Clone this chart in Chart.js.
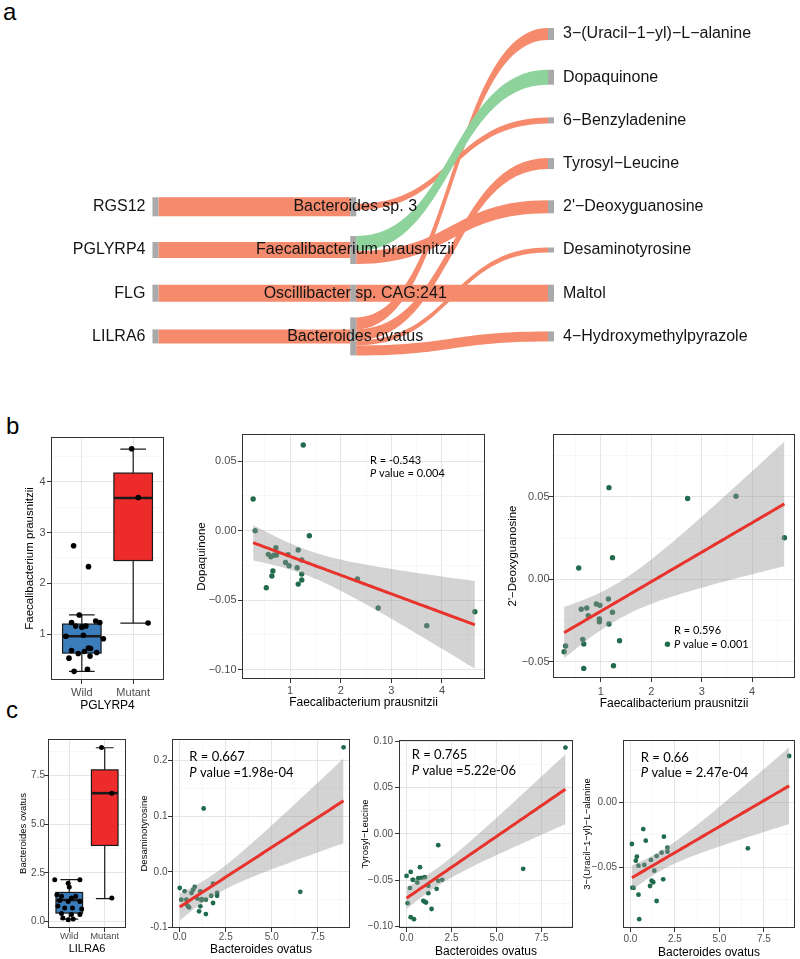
<!DOCTYPE html>
<html>
<head>
<meta charset="utf-8">
<title>Gene - microbe - metabolite figure</title>
<script src="https://cdn.jsdelivr.net/npm/chart.js@4.4.1/dist/chart.umd.min.js"></script>
<style>
  body { margin: 0; width: 800px; height: 959px; background: #fff; position: relative; overflow: hidden; }
  canvas { position: absolute; }
  .tag { position: absolute; font: 24px/24px "Liberation Sans", Arial, sans-serif; color: #000; }
</style>
</head>
<body>
<div class="tag" style="left:3px;top:0px">a</div>
<div class="tag" style="left:6px;top:414px">b</div>
<div class="tag" style="left:6px;top:698px">c</div>
<script>
// ---------- panel a : sankey ----------
var geneNodes = ['RGS12', 'PGLYRP4', 'FLG', 'LILRA6'];
var microbeNodes = ['Bacteroides sp. 3', 'Faecalibacterium prausnitzii', 'Oscillibacter sp. CAG:241', 'Bacteroides ovatus'];
var metaboliteNodes = ['3−(Uracil−1−yl)−L−alanine', 'Dopaquinone', '6−Benzyladenine', 'Tyrosyl−Leucine',
  "2'−Deoxyguanosine", 'Desaminotyrosine', 'Maltol', '4−Hydroxymethylpyrazole'];
var geneRows = [4, 5, 6, 7];
var microbeRows = [4, 5, 6, 7];
var metaboliteRows = [0, 1, 2, 3, 4, 5, 6, 7];

var linkFrom = ['RGS12', 'PGLYRP4', 'FLG', 'LILRA6',
  'Bacteroides sp. 3', 'Oscillibacter sp. CAG:241', 'Faecalibacterium prausnitzii',
  'Bacteroides ovatus', 'Bacteroides ovatus', 'Bacteroides ovatus', 'Bacteroides ovatus',
  'Faecalibacterium prausnitzii'];
var linkTo = ['Bacteroides sp. 3', 'Faecalibacterium prausnitzii', 'Oscillibacter sp. CAG:241', 'Bacteroides ovatus',
  '6−Benzyladenine', 'Maltol', "2'−Deoxyguanosine",
  '3−(Uracil−1−yl)−L−alanine', 'Tyrosyl−Leucine', 'Desaminotyrosine', '4−Hydroxymethylpyrazole',
  'Dopaquinone'];
var linkValue = [19, 16, 17, 14, 6, 17, 13, 12, 11, 5, 10, 15];
var linkSign = ['pos', 'pos', 'pos', 'pos', 'pos', 'pos', 'pos', 'pos', 'pos', 'pos', 'pos', 'neg'];

// ---------- panel b ----------
var fpGroups = ['Wild', 'Mutant'];
var fpLow = [0.27, 1.22], fpQ1 = [0.63, 2.45], fpMed = [0.96, 3.68], fpQ3 = [1.20, 4.17], fpHigh = [1.38, 4.64];
var fpWild = [0.27, 0.31, 0.53, 0.57, 0.62, 0.64, 0.66, 0.68, 0.72, 0.73, 0.91, 0.96, 0.98, 1.14, 1.16, 1.16, 1.23, 1.23, 1.26, 1.38, 2.33, 2.74];
var fpWildJit = [-0.15, 0.11, -0.25, 0.16, -0.07, 0.29, 0.05, -0.2, 0.17, 0.13, 0.42, -0.31, 0.03, 0.0, 0.08, -0.12, -0.2, 0.35, 0.27, -0.05, 0.13, -0.16];
var fpMutant = [1.22, 3.69, 4.65];
var fpMutantJit = [0.29, 0.1, -0.03];

var fpDopaX = [1.26, 0.27, 0.31, 1.38, 0.72, 0.57, 0.62, 0.68, 0.73, 0.96, 1.16, 1.23, 0.91, 0.98, 1.14, 0.66, 0.64, 1.23, 1.23, 1.16, 0.53, 2.33, 2.74, 3.70, 4.65];
var dopaquinone = [0.0617, 0.0228, 0.000, -0.0036, -0.0122, -0.017, -0.0187, -0.0177, -0.0175, -0.0172, -0.0139, -0.021, -0.0228, -0.0252, -0.0266, -0.029, -0.0326, -0.0312, -0.0355, -0.0384, -0.041, -0.0347, -0.0556, -0.0683, -0.0583];
var fpDeoxyX = [1.16, 2.72, 3.68, 4.64, 1.23, 0.56, 1.15, 0.91, 0.98, 0.72, 0.61, 1.23, 0.75, 0.97, 0.97, 1.16, 1.37, 0.64, 0.66, 0.30, 2.32, 0.27, 0.66, 1.25];
var deoxyguanosine = [0.0555, 0.0489, 0.0503, 0.0252, 0.0131, 0.0068, -0.0119, -0.015, -0.0158, -0.0174, -0.0182, -0.02, -0.022, -0.024, -0.0257, -0.0271, -0.0372, -0.0364, -0.0392, -0.0404, -0.0394, -0.0439, -0.054, -0.0524];

// ---------- panel c ----------
var boLow = [0.12, 1.17], boQ1 = [0.43, 3.91], boMed = [1.1, 6.6], boQ3 = [1.49, 7.8], boHigh = [2.15, 8.94];
var boWild = [2.15, 2.15, 1.97, 1.77, 1.37, 1.29, 1.2, 1.29, 1.08, 1.03, 1.03, 0.79, 0.69, 0.69, 0.64, 0.41, 0.35, 0.35, 0.09, 0.12, 0.17];
var boWildJit = [-0.41, 0.3, -0.03, 0, -0.35, -0.22, 0.06, 0.18, -0.27, -0.03, 0.3, -0.32, -0.13, 0.09, 0.35, -0.22, 0.06, 0.3, -0.03, 0.11, -0.18];
var boMutant = [1.2, 6.6, 8.95];
var boMutantJit = [0.2, 0.2, -0.09];

var boDesX = [8.9, 1.3, 6.55, 0.0, 0.09, 0.27, 0.36, 0.45, 0.64, 0.73, 0.82, 0.96, 1.12, 1.18, 1.42, 1.12, 1.71, 1.81, 2.03, 2.03, 1.81, 0.51, 1.05, 1.42, 0.36, 1.2];
var desaminotyrosine = [0.224, 0.114, -0.036, -0.029, -0.050, -0.035, -0.050, -0.062, -0.038, -0.032, -0.027, -0.048, -0.035, -0.051, -0.050, -0.062, -0.043, -0.056, -0.038, -0.043, -0.021, -0.064, -0.071, -0.076, -0.058, -0.049];
var boTyrX = [8.83, 6.48, 1.76, 0.745, 0.0, 0.23, 0.34, 0.65, 0.84, 1.02, 0.6, 0.19, 1.21, 1.76, 1.98, 1.67, 1.21, 0.93, 1.08, 0.06, 1.39, 0.23, 0.41, 0.99, 0.37];
var tyrosylLeucine = [0.0930, -0.0377, -0.0122, -0.0359, -0.0453, -0.041, -0.0496, -0.0478, -0.0474, -0.0467, -0.0525, -0.0585, -0.056, -0.0506, -0.0496, -0.0593, -0.064, -0.0722, -0.074, -0.0747, -0.081, -0.0898, -0.092, -0.073, -0.0496];
var boUraX = [8.92, 6.6, 0.72, 0.86, 0.08, 1.88, 2.08, 2.08, 1.75, 1.47, 1.15, 0.36, 0.30, 0.45, 0.78, 1.34, 0.17, 0.45, 1.1, 1.19, 1.28, 1.84, 1.47, 0.49, 0.11];
var uracilAlanine = [0.0361, -0.0353, -0.0204, -0.0294, -0.032, -0.0263, -0.0348, -0.0379, -0.0387, -0.0413, -0.0443, -0.0418, -0.0449, -0.0488, -0.0482, -0.0526, -0.066, -0.0712, -0.0645, -0.0604, -0.0616, -0.0593, -0.0761, -0.0902, -0.0658];

// tick sets
var fpTicks = [1, 2, 3, 4], fpTickLabels = ['1', '2', '3', '4'], fpMinor = [0.5, 1.5, 2.5, 3.5, 4.5];
var boTicks = [0, 2.5, 5, 7.5], boTickLabels = ['0.0', '2.5', '5.0', '7.5'], boMinor = [1.25, 3.75, 6.25, 8.75];

var LIB = '"Liberation Sans", Arial, sans-serif';
Chart.defaults.font.family = LIB;
Chart.defaults.animation = false;

function addCanvas(f) {
  var c = document.createElement('canvas');
  c.width = f.width; c.height = f.height;
  c.style.left = f.left + 'px'; c.style.top = f.top + 'px';
  c.style.width = f.width + 'px'; c.style.height = f.height + 'px';
  document.body.appendChild(c);
  return c;
}

// where the canvas must sit so the panel lands on rect = [l, t, r, b]
function frame(rect, yTitleX, yTitleSize, xTitleY, xTitleSize) {
  var left = Math.round(yTitleX - yTitleSize * 0.6);
  var top = rect[1] - 10;
  var bottom = Math.round(xTitleY + xTitleSize * 0.6);
  var right = Math.min(rect[2] + 14, 800);
  return { left: left, top: top, width: right - left, height: bottom - top,
    yw: rect[0] - left, xh: bottom - rect[3], padRight: right - rect[2] };
}

function axis(min, max, major, labels, minor, title, titleSize, tickSize, pad, fix) {
  var all = major.concat(minor).sort(function (a, b) { return a - b; });
  var isMajor = function (v) { return major.some(function (m) { return Math.abs(m - v) < 1e-9; }); };
  return {
    type: 'linear', min: min, max: max, bounds: 'data',
    afterBuildTicks: function (s) { s.ticks = all.map(function (v) { return { value: v }; }); },
    afterFit: fix,
    grid: {
      color: function (c) { return c.tick && isMajor(c.tick.value) ? '#E5E5E5' : '#F3F3F3'; },
      lineWidth: function (c) { return c.tick && isMajor(c.tick.value) ? 1 : 0.7; },
      tickColor: function (c) { return c.tick && isMajor(c.tick.value) ? '#333' : 'rgba(0,0,0,0)'; },
      tickLength: 4, tickWidth: 1, drawTicks: true
    },
    border: { display: false },
    ticks: {
      autoSkip: false, maxRotation: 0, minRotation: 0, padding: pad, color: '#4D4D4D',
      font: { size: tickSize },
      callback: function (v) {
        var i = major.findIndex(function (m) { return Math.abs(m - v) < 1e-9; });
        return i < 0 ? '' : labels[i];
      }
    },
    title: { display: true, text: title, color: '#000', font: { size: titleSize }, padding: 0 }
  };
}

var panelBorder = {
  id: 'panelBorder',
  afterDraw: function (chart) {
    var a = chart.chartArea, ctx = chart.ctx;
    ctx.save();
    ctx.strokeStyle = '#333'; ctx.lineWidth = 1;
    ctx.strokeRect(a.left + 0.5, a.top + 0.5, a.right - a.left - 1, a.bottom - a.top - 1);
    ctx.restore();
  }
};

function lmBand(xs, ys, steps) {
  var n = xs.length, mx = 0, my = 0, sxx = 0, sxy = 0, rss = 0, i;
  for (i = 0; i < n; i++) { mx += xs[i] / n; my += ys[i] / n; }
  for (i = 0; i < n; i++) { sxx += (xs[i] - mx) * (xs[i] - mx); sxy += (xs[i] - mx) * (ys[i] - my); }
  var b = sxy / sxx, a = my - b * mx;
  for (i = 0; i < n; i++) rss += Math.pow(ys[i] - a - b * xs[i], 2);
  var s = Math.sqrt(rss / (n - 2)), df = n - 2, z = 1.959964;
  var t = z + (z * z * z + z) / (4 * df) + (5 * Math.pow(z, 5) + 16 * z * z * z + 3 * z) / (96 * df * df);
  var lo = Math.min.apply(null, xs), hi = Math.max.apply(null, xs);
  var fit = [], up = [], dn = [];
  for (var k = 0; k <= steps; k++) {
    var x = lo + (hi - lo) * k / steps, yh = a + b * x;
    var se = s * Math.sqrt(1 / n + (x - mx) * (x - mx) / sxx);
    fit.push({ x: x, y: yh }); up.push({ x: x, y: yh + t * se }); dn.push({ x: x, y: yh - t * se });
  }
  return { fit: fit, up: up, dn: dn };
}

function scatterPlot(p) {
  var f = frame(p.rect, p.yTitleX, p.yTitleSize, p.xTitleY, p.xTitleSize);
  var cv = addCanvas(f);
  var band = lmBand(p.xs, p.ys, 60);
  var xPad = p.xLabY - p.rect[3] - 4 - p.tickSize * 0.6;
  var yPad = p.rect[0] - 4 - p.yLabRight;
  new Chart(cv, {
    type: 'scatter',
    data: { datasets: [
      { type: 'line', data: band.fit, borderColor: '#E8322C', borderWidth: 3, pointRadius: 0, fill: false, order: 1 },
      { type: 'line', data: band.dn, borderColor: 'rgba(0,0,0,0)', borderWidth: 0, pointRadius: 0, fill: false, order: 2 },
      { type: 'line', data: band.up, borderColor: 'rgba(0,0,0,0)', borderWidth: 0, pointRadius: 0, fill: '-1',
        backgroundColor: 'rgba(150,150,150,0.42)', order: 2 },
      { data: p.xs.map(function (x, i) { return { x: x, y: p.ys[i] }; }), pointRadius: p.r,
        pointBackgroundColor: '#1F6B4B', pointBorderColor: 'rgba(0,0,0,0)', order: 3 }
    ] },
    options: {
      responsive: false, devicePixelRatio: 1,
      layout: { padding: { top: 10, right: f.padRight, left: 0, bottom: 0 } },
      plugins: { legend: { display: false }, tooltip: { enabled: false } },
      scales: {
        x: axis(p.xr[0], p.xr[1], p.xTicks, p.xLabels, p.xMinor, p.xTitle, p.xTitleSize, p.tickSize, xPad,
          function (s) { s.height = f.xh; }),
        y: axis(p.yr[0], p.yr[1], p.yTicks, p.yLabels, p.yMinor, p.yTitle, p.yTitleSize, p.tickSize, yPad,
          function (s) { s.width = f.yw; })
      }
    },
    plugins: [panelBorder, {
      id: 'stats',
      afterDatasetsDraw: function (chart) {
        var ctx = chart.ctx, x = chart.scales.x, y = chart.scales.y;
        var px = x.getPixelForValue(p.annX), py = y.getPixelForValue(p.annY);
        ctx.save();
        ctx.fillStyle = '#000'; ctx.textBaseline = 'middle'; ctx.textAlign = 'left';
        ctx.font = p.annSize + 'px Lato';
        ctx.fillText(p.rText, px, py);
        var py2 = py + p.annSize * 1.22;
        ctx.font = 'italic ' + p.annSize + 'px Lato';
        ctx.fillText('P', px, py2);
        var w = ctx.measureText('P').width;
        ctx.font = p.annSize + 'px Lato';
        ctx.fillText(p.pText, px + w, py2);
        ctx.restore();
      }
    }]
  });
}

function boxPlot(p) {
  var f = frame(p.rect, p.yTitleX, p.yTitleSize, p.xTitleY, p.xTitleSize);
  var cv = addCanvas(f);
  var xPad = p.xLabY - p.rect[3] - 4 - p.tickSize * 0.6;
  var yPad = p.rect[0] - 4 - p.yLabRight;
  var pts = p.wild.map(function (v, i) { return { x: 1 + p.wildJit[i], y: v }; })
    .concat(p.mutant.map(function (v, i) { return { x: 2 + p.mutantJit[i], y: v }; }));
  new Chart(cv, {
    type: 'scatter',
    data: { datasets: [{ data: pts, pointRadius: p.r, pointBackgroundColor: '#000', pointBorderColor: 'rgba(0,0,0,0)' }] },
    options: {
      responsive: false, devicePixelRatio: 1,
      layout: { padding: { top: 10, right: f.padRight, left: 0, bottom: 0 } },
      plugins: { legend: { display: false }, tooltip: { enabled: false } },
      scales: {
        x: axis(0.4, 2.6, [1, 2], fpGroups, [], p.xTitle, p.xTitleSize, p.catSize, xPad,
          function (s) { s.height = f.xh; }),
        y: axis(p.yr[0], p.yr[1], p.yTicks, p.yLabels, p.yMinor, p.yTitle, p.yTitleSize, p.tickSize, yPad,
          function (s) { s.width = f.yw; })
      }
    },
    plugins: [panelBorder, {
      id: 'boxes',
      beforeDatasetsDraw: function (chart) {
        var ctx = chart.ctx, x = chart.scales.x, y = chart.scales.y;
        ctx.save();
        p.low.forEach(function (lo, i) {
          var cx = x.getPixelForValue(i + 1);
          var hw = x.getPixelForValue(i + 1.375) - cx, cw = x.getPixelForValue(i + 1.25) - cx;
          var yl = y.getPixelForValue(lo), yh = y.getPixelForValue(p.high[i]);
          var y1 = y.getPixelForValue(p.q1[i]), y3 = y.getPixelForValue(p.q3[i]), ym = y.getPixelForValue(p.med[i]);
          ctx.strokeStyle = '#1a1a1a'; ctx.lineWidth = 1.2;
          ctx.beginPath();
          ctx.moveTo(cx, yl); ctx.lineTo(cx, yh);
          ctx.moveTo(cx - cw, yl); ctx.lineTo(cx + cw, yl);
          ctx.moveTo(cx - cw, yh); ctx.lineTo(cx + cw, yh);
          ctx.stroke();
          ctx.fillStyle = p.fills[i];
          ctx.fillRect(cx - hw, y3, 2 * hw, y1 - y3);
          ctx.strokeRect(cx - hw, y3, 2 * hw, y1 - y3);
          ctx.lineWidth = 2.6;
          ctx.beginPath(); ctx.moveTo(cx - hw, ym); ctx.lineTo(cx + hw, ym); ctx.stroke();
        });
        ctx.restore();
      }
    }]
  });
}

// ---------- draw panel a ----------
var nodeW = 6, flowScale = 0.02315;
var sankeyDraw = {
  id: 'sankeyDraw',
  afterDatasetsDraw: function (chart) {
    var ctx = chart.ctx, x = chart.scales.x, y = chart.scales.y;
    var unit = Math.abs(y.getPixelForValue(flowScale) - y.getPixelForValue(0));
    var columns = [geneNodes, microbeNodes, metaboliteNodes];
    var rowsOf = [geneRows, microbeRows, metaboliteRows];
    var node = {};
    columns.forEach(function (names, c) {
      names.forEach(function (nm, i) {
        node[nm] = { name: nm, col: c, row: rowsOf[c][i], cx: x.getPixelForValue(c), cy: y.getPixelForValue(rowsOf[c][i]), ins: [], outs: [] };
      });
    });
    linkFrom.forEach(function (fr, i) { node[fr].outs.push(i); node[linkTo[i]].ins.push(i); });
    var thick = function (i) { return linkValue[i] * unit; };
    var total = function (l) { return l.reduce(function (s, i) { return s + thick(i); }, 0); };
    var y0 = {}, y1 = {};
    Object.keys(node).forEach(function (k) {
      var n = node[k];
      n.h = Math.max(total(n.ins), total(n.outs));
      n.top = n.cy - n.h / 2;
      var o = n.top + (n.h - total(n.outs)) / 2;
      n.outs.slice().sort(function (a, b) { return node[linkTo[a]].row - node[linkTo[b]].row; })
        .forEach(function (i) { y0[i] = o; o += thick(i); });
      o = n.top + (n.h - total(n.ins)) / 2;
      n.ins.slice().sort(function (a, b) { return node[linkFrom[a]].row - node[linkFrom[b]].row; })
        .forEach(function (i) { y1[i] = o; o += thick(i); });
    });
    ctx.save();
    linkFrom.forEach(function (fr, i) {
      var s = node[fr], t = node[linkTo[i]], w = thick(i);
      var xa = s.cx + nodeW / 2, xb = t.cx - nodeW / 2, xm = (xa + xb) / 2;
      ctx.beginPath();
      ctx.moveTo(xa, y0[i]);
      ctx.bezierCurveTo(xm, y0[i], xm, y1[i], xb, y1[i]);
      ctx.lineTo(xb, y1[i] + w);
      ctx.bezierCurveTo(xm, y1[i] + w, xm, y0[i] + w, xa, y0[i] + w);
      ctx.closePath();
      ctx.fillStyle = linkSign[i] === 'neg' ? '#8ED29C' : '#F58A6C';
      ctx.fill();
    });
    ctx.fillStyle = '#A9A9A9';
    Object.keys(node).forEach(function (k) {
      var n = node[k];
      ctx.fillRect(n.cx - nodeW / 2, n.top, nodeW, n.h);
    });
    ctx.font = '16px ' + LIB; ctx.fillStyle = '#141414'; ctx.textBaseline = 'middle';
    Object.keys(node).forEach(function (k) {
      var n = node[k];
      if (n.col === 0) { ctx.textAlign = 'right'; ctx.fillText(n.name, n.cx - nodeW / 2 - 7, n.cy); }
      else if (n.col === 1) { ctx.textAlign = 'center'; ctx.fillText(n.name, n.cx + 2, n.cy); }
      else { ctx.textAlign = 'left'; ctx.fillText(n.name, n.cx + nodeW / 2 + 9, n.cy); }
    });
    ctx.restore();
  }
};

var sk = addCanvas({ left: 0, top: 0, width: 800, height: 370 });
new Chart(sk, {
  type: 'scatter',
  data: { datasets: [{ data: [] }] },
  options: {
    responsive: false, devicePixelRatio: 1,
    layout: { padding: 0 },
    plugins: { legend: { display: false }, tooltip: { enabled: false } },
    scales: {
      x: { type: 'linear', display: false, min: -0.786, max: 3.259 },
      y: { type: 'linear', display: false, reverse: true, min: -0.787, max: 7.778 }
    }
  },
  plugins: [sankeyDraw]
});

// ---------- draw panel b ----------
boxPlot({
  rect: [51, 437, 164, 680], yTitleX: 30, yTitleSize: 11.5, xTitleY: 706, xTitleSize: 12,
  xLabY: 693, yLabRight: 45.5, tickSize: 11, catSize: 11,
  yr: [0.10, 4.88], yTicks: fpTicks, yLabels: fpTickLabels, yMinor: fpMinor,
  xTitle: 'PGLYRP4', yTitle: 'Faecalibacterium prausnitzii',
  low: fpLow, q1: fpQ1, med: fpMed, q3: fpQ3, high: fpHigh, fills: ['#3A7DBA', '#EE2B2B'],
  wild: fpWild, wildJit: fpWildJit, mutant: fpMutant, mutantJit: fpMutantJit, r: 2.8
});

scatterPlot({
  rect: [242, 434, 485, 679], yTitleX: 201.7, yTitleSize: 11.5, xTitleY: 702.5, xTitleSize: 12,
  xLabY: 690.7, yLabRight: 236.5, tickSize: 11, r: 2.7,
  xr: [0.05, 4.85], xTicks: fpTicks, xLabels: fpTickLabels, xMinor: fpMinor,
  yr: [-0.1067, 0.0696], yTicks: [-0.10, -0.05, 0, 0.05], yLabels: ['−0.10', '−0.05', '0.00', '0.05'], yMinor: [-0.075, -0.025, 0.025],
  xTitle: 'Faecalibacterium prausnitzii', yTitle: 'Dopaquinone',
  xs: fpDopaX, ys: dopaquinone,
  annX: 2.58, annY: 0.0509, annSize: 11, rText: 'R = -0.543', pText: ' value = 0.004'
});

scatterPlot({
  rect: [553, 434, 797, 678], yTitleX: 513.3, yTitleSize: 11.5, xTitleY: 703.3, xTitleSize: 12,
  xLabY: 691.7, yLabRight: 549.5, tickSize: 11, r: 2.7,
  xr: [0.05, 4.85], xTicks: fpTicks, xLabels: fpTickLabels, xMinor: fpMinor,
  yr: [-0.0598, 0.088], yTicks: [-0.05, 0, 0.05], yLabels: ['−0.05', '0.00', '0.05'], yMinor: [-0.025, 0.025, 0.075],
  xTitle: 'Faecalibacterium prausnitzii', yTitle: "2'−Deoxyguanosine",
  xs: fpDeoxyX, ys: deoxyguanosine,
  annX: 2.45, annY: -0.0312, annSize: 11, rText: 'R = 0.596', pText: ' value = 0.001'
});

// ---------- draw panel c ----------
boxPlot({
  rect: [48, 739, 126, 928], yTitleX: 23.3, yTitleSize: 9.5, xTitleY: 949, xTitleSize: 11,
  xLabY: 936.7, yLabRight: 45, tickSize: 10, catSize: 9.5,
  yr: [-0.34, 9.39], yTicks: boTicks, yLabels: boTickLabels, yMinor: boMinor,
  xTitle: 'LILRA6', yTitle: 'Bacteroides ovatus',
  low: boLow, q1: boQ1, med: boMed, q3: boQ3, high: boHigh, fills: ['#3A7DBA', '#EE2B2B'],
  wild: boWild, wildJit: boWildJit, mutant: boMutant, mutantJit: boMutantJit, r: 2.5
});

scatterPlot({
  rect: [172, 739, 350, 928], yTitleX: 145, yTitleSize: 9.5, xTitleY: 950, xTitleSize: 12,
  xLabY: 937.3, yLabRight: 167.5, tickSize: 10, r: 2.4,
  xr: [-0.42, 9.25], xTicks: boTicks, xLabels: boTickLabels, xMinor: boMinor,
  yr: [-0.101, 0.239], yTicks: [-0.1, 0, 0.1, 0.2], yLabels: ['-0.1', '0.0', '0.1', '0.2'], yMinor: [-0.05, 0.05, 0.15],
  xTitle: 'Bacteroides ovatus', yTitle: 'Desaminotyrosine',
  xs: boDesX, ys: desaminotyrosine,
  annX: 0.52, annY: 0.207, annSize: 13, rText: 'R = 0.667', pText: ' value =1.98e-04'
});

scatterPlot({
  rect: [399, 740, 573, 928], yTitleX: 365.7, yTitleSize: 9.5, xTitleY: 951.7, xTitleSize: 12,
  xLabY: 938.3, yLabRight: 393, tickSize: 10, r: 2.4,
  xr: [-0.42, 9.25], xTicks: boTicks, xLabels: boTickLabels, xMinor: boMinor,
  yr: [-0.1015, 0.1012], yTicks: [-0.1, -0.05, 0, 0.05, 0.1], yLabels: ['−0.10', '−0.05', '0.00', '0.05', '0.10'], yMinor: [-0.075, -0.025, 0.025, 0.075],
  xTitle: 'Bacteroides ovatus', yTitle: 'Tyrosyl−Leucine',
  xs: boTyrX, ys: tyrosylLeucine,
  annX: 0.29, annY: 0.0851, annSize: 13, rText: 'R = 0.765', pText: ' value =5.22e-06'
});

scatterPlot({
  rect: [623, 740, 797, 928], yTitleX: 587.3, yTitleSize: 9.5, xTitleY: 953, xTitleSize: 12,
  xLabY: 939.3, yLabRight: 617, tickSize: 10, r: 2.4,
  xr: [-0.42, 9.25], xTicks: boTicks, xLabels: boTickLabels, xMinor: boMinor,
  yr: [-0.097, 0.0485], yTicks: [-0.05, 0], yLabels: ['−0.05', '0.00'], yMinor: [-0.075, -0.025, 0.025],
  xTitle: 'Bacteroides ovatus', yTitle: '3−(Uracil−1−yl)−L−alanine',
  xs: boUraX, ys: uracilAlanine,
  annX: 0.58, annY: 0.0351, annSize: 13, rText: 'R = 0.66', pText: ' value = 2.47e-04'
});
</script>
</body>
</html>
